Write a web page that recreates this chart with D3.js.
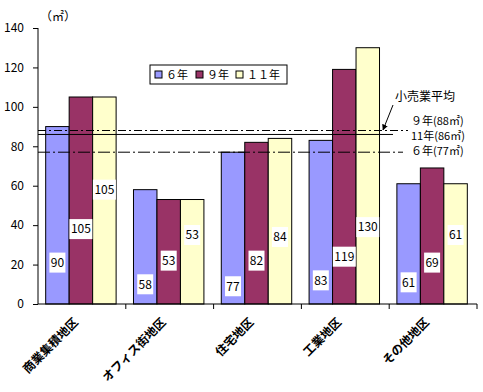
<!DOCTYPE html>
<html>
<head>
<meta charset="utf-8">
<script src="https://cdn.jsdelivr.net/npm/d3@7"></script>
<style>
  body { margin: 0; background: #fff; }
  svg { display: block; font-family: "Noto Sans CJK JP", sans-serif; }
</style>
</head>
<body>
<script>
//chart data
var categories = ["商業集積地区", "オフィス街地区", "住宅地区", "工業地区", "その他地区"];
var seriesNames = ["６年", "９年", "１１年"];
var values6 = [90, 58, 77, 83, 61];
var values9 = [105, 53, 82, 119, 69];
var values11 = [105, 53, 84, 130, 61];
var yTicks = [0, 20, 40, 60, 80, 100, 120, 140];
var avgValues = [88, 86, 77];
var avgLabels = ["９年(88㎡)", "11年(86㎡)", "６年(77㎡)"];

var colors = ["#9999ff", "#993366", "#ffffcc"];
var seriesValues = [values6, values9, values11];

//where the value boxes sit inside the bars (in data units)
var labelAt = [[21, 10, 9, 12, 11], [38, 22, 22, 24, 21], [58, 35, 34, 39, 35]];

var width = 483, height = 392;

var svg = d3.select("body").append("svg")
    .attr("width", width)
    .attr("height", height);

var x0 = d3.scaleBand()
    .domain(categories)
    .range([38, 477]);

var x1 = d3.scaleBand()
    .domain(d3.range(3))
    .range([-1, x0.bandwidth() - 1])
    .paddingOuter(0.37);

var y = d3.scaleLinear()
    .domain([0, 140])
    .range([304, 28]);

//bars
var groups = svg.selectAll(".grp")
    .data(categories)
    .enter()
    .append("g")
    .attr("class", "grp")
    .attr("transform", function(d){ return "translate(" + x0(d) + ",0)"; });

groups.each(function(cat, ci){
    var g = d3.select(this);
    seriesValues.forEach(function(vals, si){
        g.append("rect")
            .attr("x", x1(si))
            .attr("y", y(vals[ci]))
            .attr("width", x1.bandwidth())
            .attr("height", y(0) - y(vals[ci]))
            .attr("fill", colors[si])
            .attr("stroke", "#000")
            .attr("stroke-width", 1);
    });
});

//average lines
var dashes = ["8,3,2,3", null, "12,3,2,3"];
var lineEnds = [408, 393, 403];
avgValues.forEach(function(v, i){
    svg.append("line")
        .attr("x1", 38).attr("x2", lineEnds[i])
        .attr("y1", y(v)).attr("y2", y(v))
        .attr("stroke", "#000")
        .attr("stroke-width", 1)
        .attr("stroke-dasharray", dashes[i]);
});

//value labels
groups.each(function(cat, ci){
    var g = d3.select(this);
    seriesValues.forEach(function(vals, si){
        var txt = String(vals[ci]);
        var w = txt.length * 7 + 2;
        var cx = x1(si) + x1.bandwidth() / 2;
        var cy = y(labelAt[si][ci]);
        g.append("rect")
            .attr("x", cx - w / 2)
            .attr("y", cy - 10)
            .attr("width", w)
            .attr("height", 20)
            .attr("fill", "#fff");
        g.append("text")
            .attr("x", cx)
            .attr("y", cy)
            .attr("dy", "0.36em")
            .attr("text-anchor", "middle")
            .attr("font-size", 12)
            .text(txt);
    });
});

//y axis
var yAxis = d3.axisLeft(y)
    .tickValues(yTicks)
    .tickSize(5)
    .tickPadding(9);

svg.append("g")
    .attr("transform", "translate(38,0)")
    .call(yAxis)
    .call(function(g){
        g.select(".domain").attr("d", "M0,28V304");
        g.selectAll("text").attr("font-size", 12).attr("font-family", "Noto Sans CJK JP, sans-serif");
    });

//x axis with ticks at category edges
var xg = svg.append("g");
xg.append("line")
    .attr("x1", 38).attr("x2", 477)
    .attr("y1", 304).attr("y2", 304)
    .attr("stroke", "#000");
categories.forEach(function(c){
    xg.append("line")
        .attr("x1", x0(c) + x0.bandwidth()).attr("x2", x0(c) + x0.bandwidth())
        .attr("y1", 304).attr("y2", 309)
        .attr("stroke", "#000");
});

//category labels
svg.selectAll(".cat")
    .data(categories)
    .enter()
    .append("text")
    .attr("class", "cat")
    .attr("transform", function(d){
        return "translate(" + (x0(d) + x0.bandwidth() / 2 - 6) + ",320) rotate(-45)";
    })
    .attr("text-anchor", "end")
    .attr("dy", "0.35em")
    .attr("font-size", 12)
    .attr("font-weight", "bold")
    .text(function(d){ return d; });

//unit
svg.append("text")
    .attr("x", 40).attr("y", 21)
    .attr("font-size", 12)
    .text("（㎡）");

//legend
var legend = svg.append("g").attr("transform", "translate(150,65)");
legend.append("rect")
    .attr("width", 137).attr("height", 19)
    .attr("fill", "#fff").attr("stroke", "#000");
var legX = [5, 46, 86];
seriesNames.forEach(function(name, i){
    legend.append("rect")
        .attr("x", legX[i]).attr("y", 6)
        .attr("width", 7).attr("height", 7)
        .attr("fill", colors[i]).attr("stroke", "#000");
    legend.append("text")
        .attr("x", legX[i] + 11).attr("y", 10)
        .attr("dy", "0.36em")
        .attr("font-size", 11)
        .text(name);
});

//average annotation
svg.append("text")
    .attr("x", 395).attr("y", 97)
    .attr("dy", "0.36em")
    .attr("font-size", 12)
    .text("小売業平均");

svg.append("defs").append("marker")
    .attr("id", "arrow")
    .attr("viewBox", "0 0 10 10")
    .attr("refX", 9).attr("refY", 5)
    .attr("markerWidth", 6).attr("markerHeight", 6)
    .attr("orient", "auto")
    .append("path")
    .attr("d", "M0,0L10,5L0,10Z")
    .attr("fill", "#000");

svg.append("line")
    .attr("x1", 393).attr("y1", 105)
    .attr("x2", 383).attr("y2", 130)
    .attr("stroke", "#000")
    .attr("marker-end", "url(#arrow)");

var avgLabelY = [121, 136, 151];
avgLabels.forEach(function(t, i){
    svg.append("text")
        .attr("x", 411).attr("y", avgLabelY[i])
        .attr("dy", "0.36em")
        .attr("font-size", 11)
        .text(t);
});
</script>
</body>
</html>
